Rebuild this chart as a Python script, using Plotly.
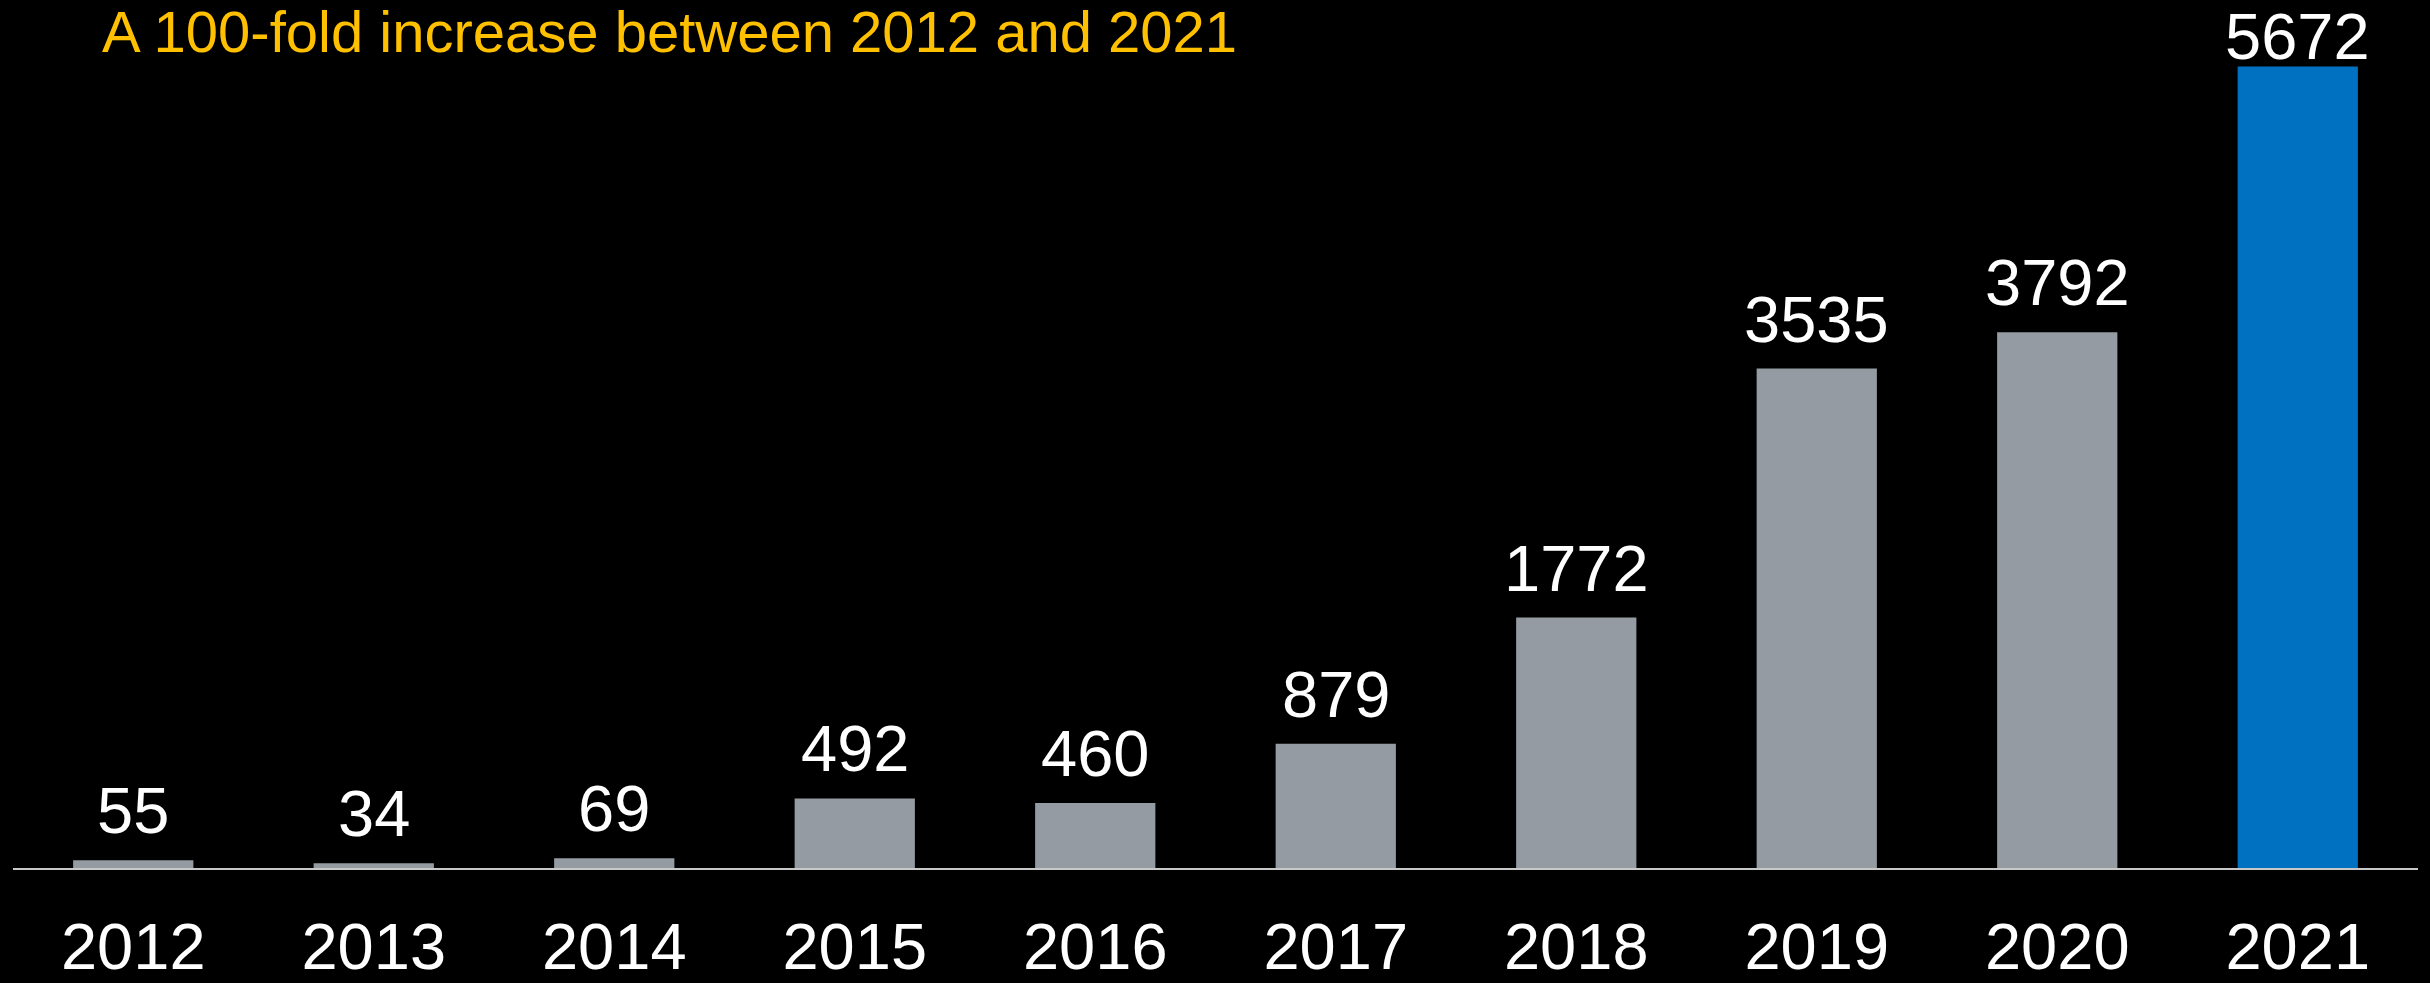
import plotly.graph_objects as go

years = ["2012", "2013", "2014", "2015", "2016", "2017", "2018", "2019", "2020", "2021"]
values = [55, 34, 69, 492, 460, 879, 1772, 3535, 3792, 5672]
title_text = "A 100-fold increase between 2012 and 2021"

GREY = "#949ba2"
BLUE = "#0070c0"
colors = [GREY] * (len(years) - 1) + [BLUE]
positions = list(range(len(years)))

fig = go.Figure()
fig.add_trace(go.Bar(x=positions, y=values, marker=dict(color=colors, line=dict(width=0)),
                     hoverinfo="skip"))

# value labels
for i, v in zip(positions, values):
    shift = 11 if i < len(years) - 1 else -8
    fig.add_annotation(x=i, y=v, xref="x", yref="y", text=str(v), showarrow=False,
                       yanchor="bottom", yshift=shift,
                       font=dict(family="Liberation Sans, Arial, sans-serif", size=65, color="white"))

# title
fig.add_annotation(xref="paper", yref="paper", x=(100 - 13) / 2405, y=1, xanchor="left",
                   yanchor="top", yshift=3, text=title_text, showarrow=False,
                   font=dict(family="Liberation Sans, Arial, sans-serif", size=58,
                             color="#ffc000"))

fig.update_layout(
    width=2430, height=983,
    margin=dict(l=13, r=12, t=0, b=110),
    paper_bgcolor="black", plot_bgcolor="black",
    bargap=0.5, showlegend=False,
    xaxis=dict(range=[-0.5, len(years) - 0.5], tickmode="array", tickvals=positions,
               ticktext=years, showgrid=False, zeroline=False, showline=True,
               linecolor="#c8c8c8", linewidth=2, ticks="", fixedrange=True,
               tickfont=dict(family="Liberation Sans, Arial, sans-serif", size=65, color="white"),
               ticklabelstandoff=21),
    yaxis=dict(range=[0, 6143], visible=False, showgrid=False, zeroline=False, fixedrange=True),
)

fig.write_html("out.html", config={"displayModeBar": False},
               post_script="document.body.style.margin='0';document.body.style.background='black';document.body.style.overflow='hidden';")
